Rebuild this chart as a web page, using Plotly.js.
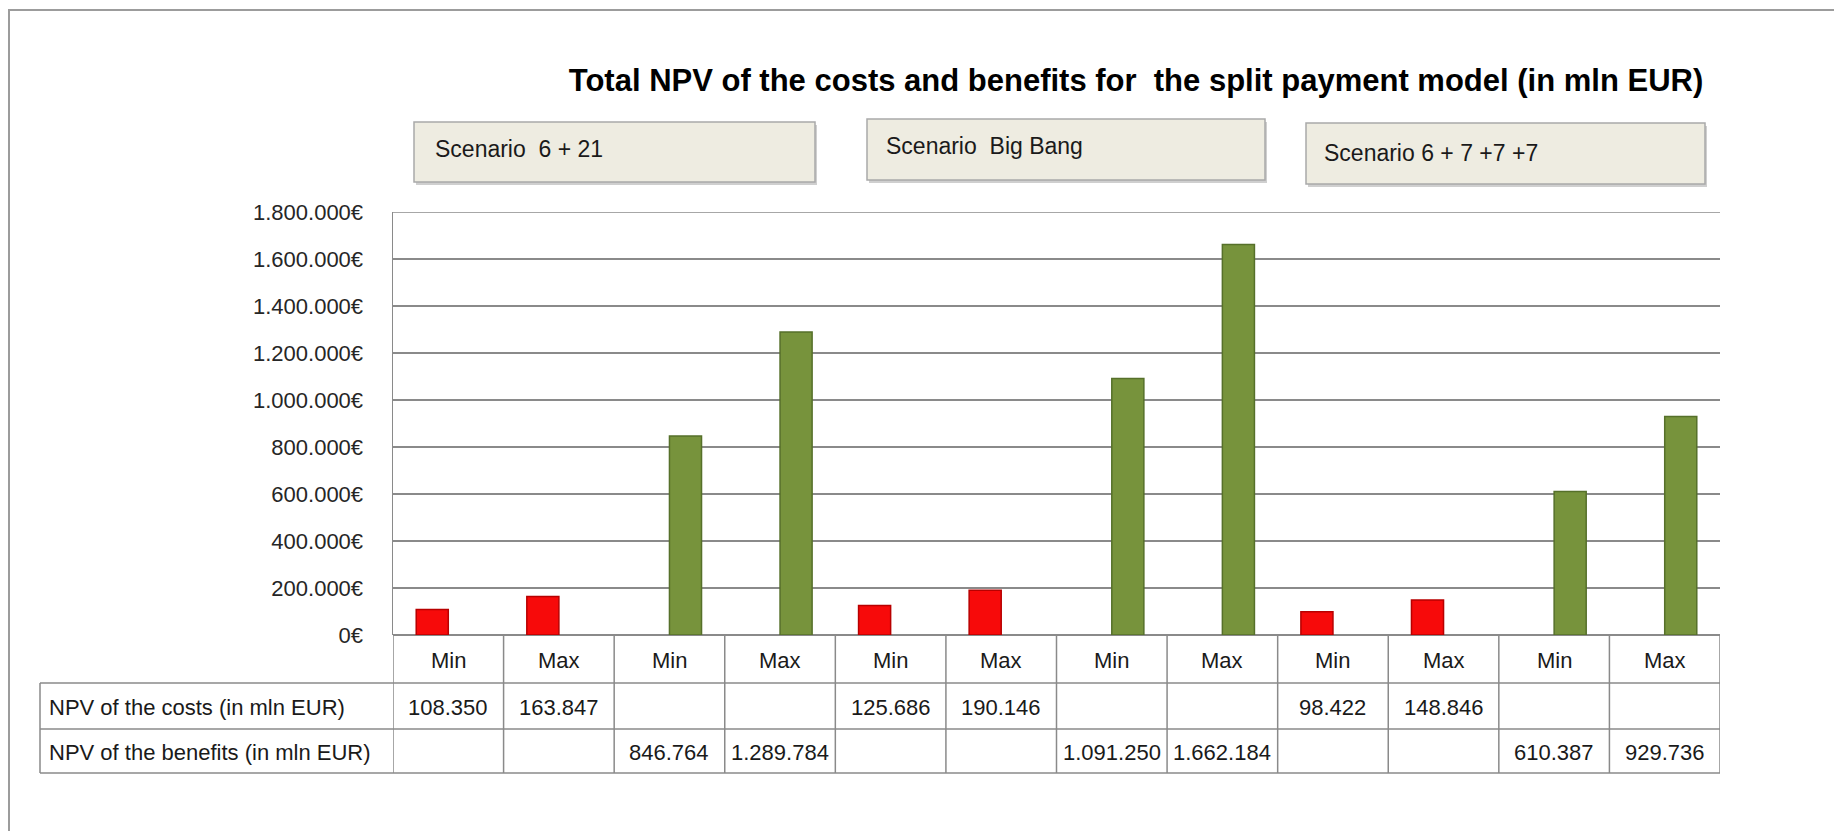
<!DOCTYPE html>
<html>
<head>
<meta charset="utf-8">
<script src="https://cdn.plot.ly/plotly-3.0.1.min.js"></script>
<style>
  html, body { margin: 0; padding: 0; background: #ffffff; }
  #chart { width: 1834px; height: 831px; }
</style>
</head>
<body>
<div id="chart"></div>
<script>
// columns of the chart / table
const columnLabels = ['Min', 'Max', 'Min', 'Max', 'Min', 'Max', 'Min', 'Max', 'Min', 'Max', 'Min', 'Max']
const scenarios = ['Scenario  6 + 21', 'Scenario  Big Bang', 'Scenario 6 + 7 +7 +7']
const rowLabels = ['NPV of the costs (in mln EUR)', 'NPV of the benefits (in mln EUR)']

// NPV values (thousands, shown with "." as thousands separator)
const costs = [108350, 163847, null, null, 125686, 190146, null, null, 98422, 148846, null, null]
const benefits = [null, null, 846764, 1289784, null, null, 1091250, 1662184, null, null, 610387, 929736]

const yMax = 1800000

const W = 1834, H = 831
const plotL = 393, plotR = 1720, plotT = 212, plotB = 635

// pixel -> paper helpers for the decorations around the plot
const px = x => (x - plotL) / (plotR - plotL)
const py = y => (plotB - y) / (plotB - plotT)

const fmt = v => String(v).replace(/\B(?=(\d{3})+(?!\d))/g, '.')

const xs = columnLabels.map((_, i) => i)
const gridColor = '#8a8a8a'
const textFont = { family: 'Liberation Sans, Arial, sans-serif', size: 22, color: '#1a1a1a' }

const data = [
  {
    type: 'bar',
    x: xs,
    y: costs,
    name: rowLabels[0],
    marker: { color: '#f70a0a', line: { color: '#b80000', width: 1.5 } },
    hoverinfo: 'skip'
  },
  {
    type: 'bar',
    x: xs,
    y: benefits,
    name: rowLabels[1],
    marker: { color: '#77933c', line: { color: '#56702a', width: 1.5 } },
    hoverinfo: 'skip'
  }
]

const shapes = []
const annotations = []

// outer frame
shapes.push({
  type: 'rect', xref: 'paper', yref: 'paper',
  x0: px(9), x1: px(1900), y0: py(10), y1: py(900),
  line: { color: '#9c9c9c', width: 2 }, fillcolor: 'rgba(0,0,0,0)', layer: 'below'
})

// top gridline at the end of the range
shapes.push({
  type: 'line', xref: 'paper', yref: 'y',
  x0: 0, x1: 1, y0: yMax, y1: yMax,
  line: { color: gridColor, width: 1.5 }
})

// scenario boxes
const boxes = [
  { x0: 414, x1: 815, y0: 122, y1: 182, tx: 433, ty: 149 },
  { x0: 867, x1: 1265, y0: 119, y1: 180, tx: 884, ty: 146 },
  { x0: 1306, x1: 1705, y0: 123, y1: 184, tx: 1322, ty: 153 }
]
boxes.forEach((b, i) => {
  shapes.push({
    type: 'rect', xref: 'paper', yref: 'paper',
    x0: px(b.x0 + 2), x1: px(b.x1 + 2), y0: py(b.y0 + 3), y1: py(b.y1 + 3),
    line: { width: 0 }, fillcolor: '#cfcfcf'
  })
  shapes.push({
    type: 'rect', xref: 'paper', yref: 'paper',
    x0: px(b.x0), x1: px(b.x1), y0: py(b.y0), y1: py(b.y1),
    line: { color: '#a9a9a9', width: 1.5 }, fillcolor: '#eeece1'
  })
  annotations.push({
    xref: 'paper', yref: 'paper', x: px(b.tx), y: py(b.ty),
    xanchor: 'left', yanchor: 'middle', showarrow: false,
    text: scenarios[i], font: Object.assign({}, textFont, { size: 23 })
  })
})

// data table under the plot
const rowLines = [683, 729, 773]
rowLines.forEach(y => {
  shapes.push({
    type: 'line', xref: 'paper', yref: 'paper',
    x0: px(40), x1: 1, y0: py(y), y1: py(y),
    line: { color: gridColor, width: 1.5 }
  })
})
shapes.push({
  type: 'line', xref: 'paper', yref: 'paper',
  x0: px(40), x1: px(40), y0: py(683), y1: py(773),
  line: { color: gridColor, width: 1.5 }
})
for (let i = 0; i <= columnLabels.length; i++) {
  shapes.push({
    type: 'line', xref: 'x', yref: 'paper',
    x0: i - 0.5, x1: i - 0.5, y0: 0, y1: py(773),
    line: { color: gridColor, width: 1.5 }
  })
}

columnLabels.forEach((label, i) => {
  annotations.push({
    xref: 'x', yref: 'paper', x: i, y: py(660),
    xanchor: 'center', yanchor: 'middle', showarrow: false,
    text: label, font: textFont
  })
  if (costs[i] !== null) {
    annotations.push({
      xref: 'x', yref: 'paper', x: i, y: py(707),
      xanchor: 'center', yanchor: 'middle', showarrow: false,
      text: fmt(costs[i]), font: textFont
    })
  }
  if (benefits[i] !== null) {
    annotations.push({
      xref: 'x', yref: 'paper', x: i, y: py(752),
      xanchor: 'center', yanchor: 'middle', showarrow: false,
      text: fmt(benefits[i]), font: textFont
    })
  }
})

rowLabels.forEach((label, r) => {
  annotations.push({
    xref: 'paper', yref: 'paper', x: px(47), y: py(r === 0 ? 707 : 752),
    xanchor: 'left', yanchor: 'middle', showarrow: false,
    text: label, font: textFont
  })
})

const layout = {
  width: W,
  height: H,
  margin: { l: plotL, r: W - plotR, t: plotT, b: H - plotB, pad: 0 },
  paper_bgcolor: '#ffffff',
  plot_bgcolor: '#ffffff',
  separators: ',.',
  showlegend: false,
  barmode: 'group',
  bargap: 0.42,
  bargroupgap: 0,
  title: {
    text: 'Total NPV of the costs and benefits for  the split payment model (in mln EUR)',
    xref: 'container', yref: 'container',
    x: 1136 / W, y: 1 - 80 / H, xanchor: 'center', yanchor: 'middle',
    font: { family: 'Liberation Sans, Arial, sans-serif', size: 31, color: '#000000', weight: 'bold' }
  },
  xaxis: {
    range: [-0.5, columnLabels.length - 0.5],
    showticklabels: false,
    showgrid: false,
    zeroline: false,
    showline: false,
    fixedrange: true
  },
  yaxis: {
    range: [0, yMax],
    dtick: 200000,
    tickformat: ',.0f',
    ticksuffix: '€',
    ticks: '',
    ticklabelstandoff: 24,
    tickfont: { family: 'Liberation Sans, Arial, sans-serif', size: 22, color: '#262626' },
    showgrid: true,
    gridcolor: gridColor,
    gridwidth: 1.5,
    showline: true,
    linecolor: gridColor,
    linewidth: 1.5,
    zeroline: true,
    zerolinecolor: gridColor,
    zerolinewidth: 1.5,
    fixedrange: true
  },
  shapes,
  annotations
}

Plotly.newPlot('chart', data, layout, { displayModeBar: false, staticPlot: true })
</script>
</body>
</html>
